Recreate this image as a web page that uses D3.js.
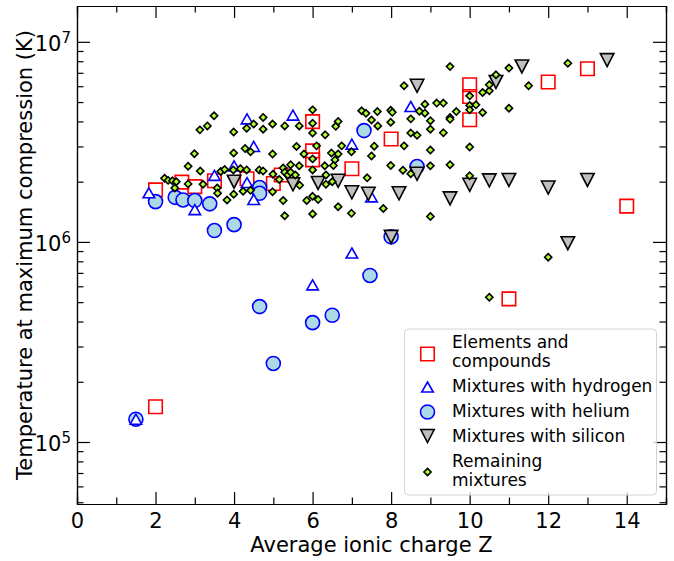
<!DOCTYPE html>
<html>
<head>
<meta charset="utf-8">
<script src="https://cdn.jsdelivr.net/npm/d3@7"></script>
<style>
  body { margin: 0; background: #fff; }
  svg { font-family: "DejaVu Sans", sans-serif; }
</style>
</head>
<body>
<svg></svg>
<script>
const width = 674;
const height = 561;
const margin = { top: 6, right: 8, bottom: 57, left: 77 };

// [average ionic charge Z, temperature K]
const elements = [
  [2, 1.5e5], [2, 1.82e6], [2.67, 1.99e6], [3, 1.89e6], [3.5, 2.02e6], [4.33, 2.07e6],
  [5, 1.96e6], [5.2, 2.16e6], [6, 3.99e6], [6, 2.85e6], [6, 2.57e6], [7, 2.32e6],
  [8, 3.27e6], [10, 6.1e6], [10, 5.33e6], [10, 4.08e6], [11, 5.19e5], [12, 6.3e6],
  [13, 7.33e6], [14, 1.51e6]
];
const hydrogen = [
  [1.5, 1.3e5], [1.83, 1.76e6], [3, 1.45e6], [3.5, 2.15e6], [4, 2.4e6], [4.33, 4.12e6],
  [4.33, 1.98e6], [4.5, 3.0e6], [4.5, 1.63e6], [5.5, 4.3e6], [6, 6.1e5], [7, 3.08e6],
  [7, 8.8e5], [7.5, 1.68e6], [8.5, 4.75e6]
];
const helium = [
  [1.5, 1.3e5], [2, 1.59e6], [2.5, 1.67e6], [2.7, 1.62e6], [3, 1.61e6], [3.38, 1.55e6],
  [3.5, 1.14e6], [4, 1.22e6], [4.65, 1.87e6], [4.65, 1.75e6], [7.31, 3.6e6], [8.66, 2.38e6],
  [8, 1.06e6], [4.65, 4.75e5], [6, 3.95e5], [6.5, 4.3e5], [7.46, 6.8e5], [5, 2.47e5]
];
const silicon = [
  [4, 2.0e6], [5.5, 1.94e6], [6.14, 1.97e6], [6.65, 2.02e6], [7, 1.77e6], [7.42, 1.74e6],
  [8, 1.06e6], [8.2, 1.75e6], [8.66, 2.19e6], [8.66, 6.03e6], [9.5, 1.65e6], [10, 1.93e6],
  [10.5, 2.03e6], [10.67, 6.3e6], [11, 2.04e6], [11.33, 7.53e6], [12, 1.87e6], [12.5, 9.85e5],
  [13, 2.04e6], [13.5, 8.1e6]
];
const remaining = [
  [2.23, 2.08e6], [2.32, 2.03e6], [2.43, 2.02e6], [2.53, 2.0e6], [2.49, 1.86e6], [2.83, 2.39e6],
  [2.83, 1.95e6], [2.99, 2.76e6], [3.13, 3.63e6], [3.14, 2.26e6], [3.21, 1.94e6], [3.32, 3.8e6],
  [3.49, 4.27e6], [3.57, 1.86e6], [3.58, 1.75e6], [3.66, 2.25e6], [3.76, 2.3e6], [3.82, 1.62e6],
  [3.99, 3.54e6], [3.99, 2.78e6], [3.98, 2.29e6], [3.99, 1.73e6], [4.16, 2.32e6], [4.23, 1.79e6],
  [4.28, 2.93e6], [4.42, 2.82e6], [4.32, 2.29e6], [4.42, 1.81e6], [4.32, 3.7e6], [4.5, 3.88e6],
  [4.64, 2.29e6], [4.74, 4.19e6], [4.74, 3.66e6], [4.74, 2.26e6], [4.98, 3.88e6], [4.98, 2.75e6],
  [4.99, 2.18e6], [4.98, 1.78e6], [5.15, 2.05e6], [5.25, 2.34e6], [5.29, 2.23e6], [5.37, 2.16e6],
  [5.44, 2.23e6], [5.44, 2.43e6], [5.56, 2.16e6], [5.66, 2.4e6], [5.29, 3.8e6], [5.25, 1.61e6],
  [5.29, 1.35e6], [5.59, 3.0e6], [5.66, 3.8e6], [5.67, 1.92e6], [5.78, 2.75e6], [5.85, 1.61e6],
  [6, 4.57e6], [6, 3.92e6], [6, 3.5e6], [6, 2.6e6], [6, 2.29e6], [6, 1.69e6],
  [6, 1.38e6], [6.1, 3.02e6], [6.14, 1.63e6], [6.32, 3.43e6], [6.31, 2.4e6], [6.34, 2.16e6],
  [6.34, 1.94e6], [6.48, 2.78e6], [6.5, 2.0e6], [6.57, 2.57e6], [6.53, 2.41e6], [6.59, 3.78e6],
  [6.65, 4.0e6], [6.65, 2.75e6], [6.65, 1.5e6], [6.74, 3.02e6], [6.99, 2.82e6], [6.99, 1.39e6],
  [7.25, 4.52e6], [7.36, 4.39e6], [7.39, 2.09e6], [7.5, 4.07e6], [7.5, 2.69e6], [7.57, 3.01e6],
  [7.65, 4.48e6], [7.66, 3.8e6], [7.8, 1.47e6], [7.99, 4.55e6], [8.03, 4.44e6], [7.99, 3.96e6],
  [7.99, 2.41e6], [8.3, 2.28e6], [8.33, 6.03e6], [8.33, 3.02e6], [8.5, 4.12e6], [8.5, 3.5e6],
  [8.66, 3.41e6], [8.72, 4.5e6], [8.86, 4.88e6], [8.86, 4.4e6], [9, 4.03e6], [9, 3.66e6],
  [9, 2.88e6], [9, 2.4e6], [9, 1.34e6], [9.16, 4.94e6], [9.33, 4.94e6], [9.33, 3.51e6],
  [9.5, 7.52e6], [9.5, 4.19e6], [9.5, 4.1e6], [9.5, 2.43e6], [9.66, 4.48e6], [10, 5.37e6],
  [10, 4.81e6], [10, 4.57e6], [10, 2.98e6], [10, 2.14e6], [10.16, 4.84e6], [10.33, 5.58e6],
  [10.33, 4.43e6], [10.5, 5.69e6], [10.5, 6.1e6], [10.67, 6.84e6], [11, 7.39e6], [11, 4.66e6],
  [11.5, 6.03e6], [12.5, 7.81e6], [12, 8.39e5], [10.5, 5.29e5], [8.5, 2.19e6]
];

const xMajor = [0, 2, 4, 6, 8, 10, 12, 14];
const xMinor = [1, 3, 5, 7, 9, 11, 13, 15];
const yMajor = [1e5, 1e6, 1e7];

const legendLabels = [
  ["Elements and", "compounds"],
  ["Mixtures with hydrogen"],
  ["Mixtures with helium"],
  ["Mixtures with silicon"],
  ["Remaining", "mixtures"]
];

const svg = d3.select("svg").attr("width", width).attr("height", height);

const xScale = d3.scaleLinear().domain([0, 15]).range([margin.left, width - margin.right]);
const yScale = d3.scaleLog().domain([4.9e4, 1.51e7]).range([height - margin.bottom, margin.top]);

const yMinor = [];
for (let e = 4; e <= 7; e++) {
  for (let m = 2; m <= 9; m++) {
    const v = m * Math.pow(10, e);
    if (v >= 4.9e4 && v <= 1.51e7) yMinor.push(v);
  }
}

const markerShapes = {
  square: (s) => `M${-s / 2},${-s / 2}h${s}v${s}h${-s}Z`,
  up: (w, h) => `M0,${-h / 2}L${w / 2},${h / 2}L${-w / 2},${h / 2}Z`,
  down: (w, h) => `M0,${h / 2}L${w / 2},${-h / 2}L${-w / 2},${-h / 2}Z`,
  diamond: (r) => `M0,${-r}L${r},0L0,${r}L${-r},0Z`
};

const series = [
  { data: elements, path: markerShapes.square(13.5), fill: "none", stroke: "#ff0000" },
  { data: hydrogen, path: markerShapes.up(11.5, 10), fill: "#ffffff", stroke: "#0000ff" },
  { data: helium, path: null, fill: "#add8e6", stroke: "#0000ff" },
  { data: silicon, path: markerShapes.down(13.5, 13), fill: "#c0c0c0", stroke: "#000000" },
  { data: remaining, path: markerShapes.diamond(3.6), fill: "#adff2f", stroke: "#000000" }
];
// draw order: squares, circles, hydrogen, silicon, remaining
const drawOrder = [0, 2, 1, 3, 4];

const drawAxes = () => {
  const bottom = height - margin.bottom;
  const right = width - margin.right;

  const styleAxis = (g) => {
    g.selectAll("path.domain").attr("stroke", "#000").attr("stroke-width", 1.2);
    g.selectAll(".tick line").attr("stroke", "#000").attr("stroke-width", 1.2);
  };

  // minor ticks
  const minorX = (axis, y) => svg.append("g").attr("transform", `translate(0,${y})`)
    .call(axis(xScale).tickValues(xMinor).tickSize(-6.5).tickFormat(""))
    .call(styleAxis);
  minorX(d3.axisBottom, bottom);
  minorX(d3.axisTop, margin.top);

  svg.append("g").attr("transform", `translate(${margin.left},0)`)
    .call(d3.axisLeft(yScale).tickValues(yMinor).tickSize(-6.5).tickFormat(""))
    .call(styleAxis);
  svg.append("g").attr("transform", `translate(${right},0)`)
    .call(d3.axisRight(yScale).tickValues(yMinor).tickSize(-6.5).tickFormat(""))
    .call(styleAxis);

  // major ticks
  svg.append("g").attr("id", "x-axis").attr("transform", `translate(0,${bottom})`)
    .call(d3.axisBottom(xScale).tickValues(xMajor).tickSize(-12).tickSizeOuter(0).tickPadding(9).tickFormat(d3.format("d")))
    .call(styleAxis)
    .call((g) => g.selectAll("text").attr("font-size", 21).attr("fill", "#000").attr("font-family", "DejaVu Sans"));
  svg.append("g").attr("transform", `translate(0,${margin.top})`)
    .call(d3.axisTop(xScale).tickValues(xMajor).tickSize(-12).tickSizeOuter(0).tickFormat(""))
    .call(styleAxis);

  const yAxisG = svg.append("g").attr("id", "y-axis").attr("transform", `translate(${margin.left},0)`)
    .call(d3.axisLeft(yScale).tickValues(yMajor).tickSize(-13).tickSizeOuter(0).tickPadding(6))
    .call(styleAxis);
  yAxisG.selectAll(".tick text").each(function (d) {
    const t = d3.select(this).text("").attr("fill", "#000").attr("font-family", "DejaVu Sans")
      .attr("font-size", 21).attr("dy", "0.42em");
    t.append("tspan").text("10");
    t.append("tspan").attr("font-size", 15).attr("dy", -8).text(Math.round(Math.log10(d)));
  });
  svg.append("g").attr("transform", `translate(${right},0)`)
    .call(d3.axisRight(yScale).tickValues(yMajor).tickSize(-13).tickSizeOuter(0).tickFormat(""))
    .call(styleAxis);

  // axis titles
  svg.append("text")
    .attr("x", (margin.left + right) / 2)
    .attr("y", 552)
    .attr("text-anchor", "middle")
    .attr("font-size", 21)
    .text("Average ionic charge Z");

  svg.append("text")
    .attr("transform", `translate(31.5,${(margin.top + bottom) / 2}) rotate(-90)`)
    .attr("text-anchor", "middle")
    .attr("font-size", 21)
    .text("Temperature at maximum compression (K)");
};

const drawMarker = (sel, s) => {
  if (s.path === null) {
    return sel.append("circle").attr("r", 7).attr("fill", s.fill)
      .attr("stroke", s.stroke).attr("stroke-width", 1.6);
  }
  return sel.append("path").attr("d", s.path).attr("fill", s.fill)
    .attr("stroke", s.stroke).attr("stroke-width", 1.6);
};

const drawPoints = () => {
  const plot = svg.append("g");
  drawOrder.forEach((i) => {
    const s = series[i];
    plot.append("g")
      .selectAll("g")
      .data(s.data)
      .enter()
      .append("g")
      .attr("transform", (d) => `translate(${xScale(d[0])},${yScale(d[1])})`)
      .each(function () { drawMarker(d3.select(this), s); });
  });
};

const drawLegend = () => {
  const lg = svg.append("g");
  lg.append("rect")
    .attr("x", 404.5).attr("y", 329).attr("width", 252).attr("height", 166)
    .attr("rx", 4).attr("fill", "#fff").attr("fill-opacity", 0.8)
    .attr("stroke", "#d4d4d4").attr("stroke-width", 1);

  const rows = [
    { my: 354, ty: [348, 367] },
    { my: 387, ty: [392] },
    { my: 412, ty: [417] },
    { my: 436, ty: [442] },
    { my: 472, ty: [467, 485.5] }
  ];
  rows.forEach((r, i) => {
    const g = lg.append("g").attr("transform", `translate(427.5,${r.my})`);
    drawMarker(g, series[i]);
    legendLabels[i].forEach((line, j) => {
      lg.append("text").attr("x", 452).attr("y", r.ty[j])
        .attr("font-size", 17).text(line);
    });
  });
};

drawAxes();
drawPoints();
drawLegend();
</script>
</body>
</html>
